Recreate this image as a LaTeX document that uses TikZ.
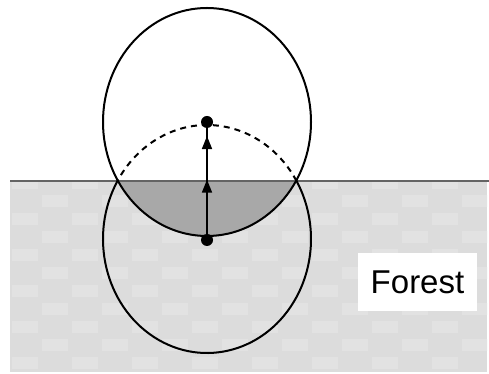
\documentclass[tikz,border=0pt]{standalone}
\usepackage{fontspec}
\setmainfont{Liberation Sans}
\usetikzlibrary{arrows.meta,decorations.markings}
\definecolor{forestA}{RGB}{220,220,220}
\definecolor{forestB}{RGB}{226,226,226}
\definecolor{shadegray}{RGB}{168,168,168}
\definecolor{horizon}{RGB}{100,100,100}
\tikzset{
  outline/.style={line width=2pt, black},
  dotnode/.style={circle, fill=black, minimum size=12pt, inner sep=0pt},
  labelbox/.style={fill=white, minimum width=119pt, minimum height=58pt, inner sep=0pt, font=\fontsize{33}{36}\selectfont},
  midarrows/.style={line width=1.6pt, postaction={decorate}, decoration={markings,
      mark=at position 0.54 with {\arrow{Triangle[length=13pt,width=10pt]}},
      mark=at position 0.93 with {\arrow{Triangle[length=13pt,width=10pt]}}}}
}
\begin{document}
\begin{tikzpicture}[x=1pt,y=1pt]
\useasboundingbox (0,0) rectangle (489,374);
\fill[white] (0,0) rectangle (489,374);
% forest texture
\fill[forestA] (10,2) rectangle (487,193);
\begin{scope}
\clip (10,2) rectangle (487,193);
\foreach \i in {0,...,16}{
  \foreach \j in {0,...,10}{
    \pgfmathtruncatemacro{\parity}{mod(\i+\j,2)}
    \ifnum\parity=0
      \fill[forestB] (10+\i*30+2,2+\j*18+3) rectangle (10+\i*30+28,2+\j*18+15);
    \fi
  }
}
\end{scope}
% shaded part of the upper circle below the horizon
\begin{scope}
\clip (0,0) rectangle (489,193);
\fill[shadegray] (207,252) ellipse [x radius=104, y radius=114];
\end{scope}
% horizon
\draw[horizon, line width=2pt] (10,193) -- (489,193);
% upper circle
\draw[outline] (207,252) ellipse [x radius=104, y radius=114];
% lower circle: dashed above horizon, solid below
\draw[outline, dash pattern=on 6pt off 5pt] (207,135) ++(30.6:104 and 114) arc [start angle=30.6, end angle=149.4, x radius=104, y radius=114];
\draw[outline] (207,135) ++(149.4:104 and 114) arc [start angle=149.4, end angle=390.6, x radius=104, y radius=114];
% positions
\node[dotnode] (low) at (207,134) {};
\node[dotnode] (up) at (207,252) {};
\draw[midarrows] (low.center) -- (up.south);
% label
\node[labelbox] (forest) at (417.5,92) {Forest};
\end{tikzpicture}
\end{document}
